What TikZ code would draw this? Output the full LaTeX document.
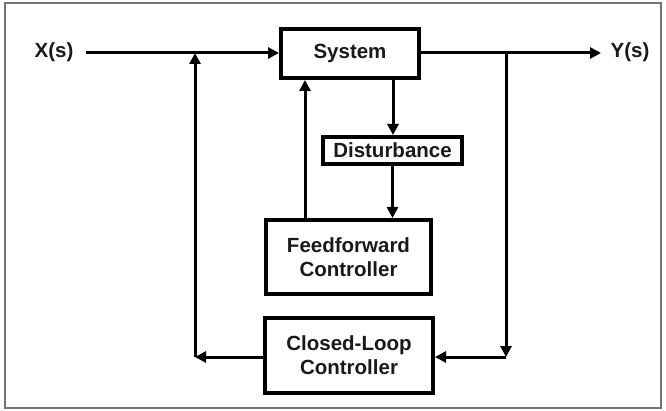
\documentclass[tikz,border=0pt]{standalone}
\usepackage{fontspec}
\setmainfont{Liberation Sans}
\usetikzlibrary{arrows.meta}
\begin{document}
\begin{tikzpicture}[x=1pt,y=-1pt,
  every node/.style={font=\fontsize{20.5}{24}\selectfont\bfseries, text=black!90},
  blockbox/.style={draw, line width=4pt, align=center, inner sep=0pt},
  wire/.style={line width=3pt},
  arrowwire/.style={wire, -{Triangle[length=11pt,width=11pt]}}
]
% canvas and frame
\useasboundingbox (0,0) rectangle (666,411);
\draw[black!55, line width=1.2pt] (5,3) rectangle (661,408);

% blocks
\node[blockbox, minimum width=138pt, minimum height=49pt] (sys) at (350,53.5) {System};
\node[blockbox, minimum width=139pt, minimum height=27pt] (dist) at (392.5,150.5) {Disturbance};
\node[blockbox, minimum width=165pt, minimum height=74pt] (ff) at (348.5,257) {Feedforward\\Controller};
\node[blockbox, minimum width=168pt, minimum height=75pt] (cl) at (349,355.5) {Closed-Loop\\Controller};

% signals
\node (x) at (54,52) {X(s)};
\node (y) at (630,52) {Y(s)};

% signal line ends, branch and corner points
\coordinate (xin) at (86,53);
\coordinate (yout) at (601,53);
\coordinate (jl) at (195,53);
\coordinate (jr) at (506,53);
\coordinate (bl) at (195,357);
\coordinate (br) at (506,357);
\coordinate (ffup) at (305,0);
\coordinate (sysdown) at (393,0);

% forward path
\draw[arrowwire] (xin) -- (sys.west |- xin);
\draw[arrowwire] (sys.east |- yout) -- (yout);

% system to disturbance to feedforward
\draw[arrowwire] (sysdown |- sys.south) -- (sysdown |- dist.north);
\draw[arrowwire] (dist.south) -- (dist.south |- ff.north);
\draw[arrowwire] (ffup |- ff.north) -- (ffup |- sys.south);

% closed loop
\draw[arrowwire] (jr) -- (br);
\draw[arrowwire] (br) -- (cl.east |- br);
\draw[arrowwire] (cl.west |- bl) -- (bl);
\draw[arrowwire] (bl) -- (jl);
\end{tikzpicture}
\end{document}
